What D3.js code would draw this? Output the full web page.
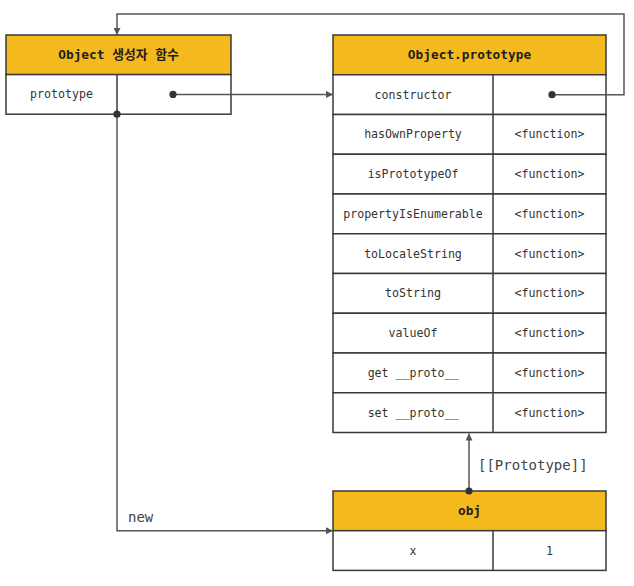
<!DOCTYPE html>
<html>
<head>
<meta charset="utf-8">
<script src="https://cdn.jsdelivr.net/npm/d3@7"></script>
<style>
  html, body { margin: 0; padding: 0; background: #fff; }
  svg text { font-family: "DejaVu Sans Mono", "Noto Sans CJK KR", monospace; }
</style>
</head>
<body>
<div id="chart"></div>
<script>
const ctorTitle = 'Object 생성자 함수'
const ctorRows = [['prototype', '']]

const protoTitle = 'Object.prototype'
const protoKeys = ['constructor', 'hasOwnProperty', 'isPrototypeOf', 'propertyIsEnumerable',
  'toLocaleString', 'toString', 'valueOf', 'get __proto__', 'set __proto__']
const protoValues = ['', '<function>', '<function>', '<function>', '<function>',
  '<function>', '<function>', '<function>', '<function>']

const objTitle = 'obj'
const objRows = [['x', '1']]

const linkLabels = ['new', '[[Prototype]]']

const W = 634, H = 586
const YELLOW = '#F4B91D'
const LINE = '#555'

const svg = d3.select('#chart').append('svg')
  .attr('width', W).attr('height', H)

svg.append('defs').append('marker')
  .attr('id', 'arrow')
  .attr('viewBox', '0 0 10 10')
  .attr('refX', 10).attr('refY', 5)
  .attr('markerWidth', 7).attr('markerHeight', 7)
  .attr('markerUnits', 'userSpaceOnUse')
  .attr('orient', 'auto')
  .append('path').attr('d', 'M0,0 L10,5 L0,10 Z').attr('fill', LINE)

// one table = header band + key/value rows
function drawTable(title, rows, x0, x1, xDiv, yTop, rowH) {
  const y = d3.scaleBand().domain(d3.range(rows.length + 1)).range([yTop, yTop + rowH * (rows.length + 1)])
  const g = svg.append('g')

  g.append('rect')
    .attr('x', x0).attr('y', y(0)).attr('width', x1 - x0).attr('height', y.bandwidth())
    .attr('fill', YELLOW).attr('stroke', '#3a3a3a').attr('stroke-width', 1.5)
  g.append('text')
    .attr('x', (x0 + x1) / 2).attr('y', y(0) + y.bandwidth() / 2)
    .attr('text-anchor', 'middle').attr('dominant-baseline', 'central')
    .attr('font-size', '12.8px').attr('font-weight', 'bold').attr('fill', '#1e1e1e')
    .text(title)

  rows.forEach((r, i) => {
    const yy = y(i + 1)
    g.append('rect')
      .attr('x', x0).attr('y', yy).attr('width', x1 - x0).attr('height', y.bandwidth())
      .attr('fill', '#fff').attr('stroke', '#3a3a3a').attr('stroke-width', 1.5)
    g.append('line')
      .attr('x1', xDiv).attr('x2', xDiv).attr('y1', yy).attr('y2', yy + y.bandwidth())
      .attr('stroke', '#3a3a3a').attr('stroke-width', 1.5)
    g.append('text')
      .attr('x', (x0 + xDiv) / 2).attr('y', yy + y.bandwidth() / 2)
      .attr('text-anchor', 'middle').attr('dominant-baseline', 'central')
      .attr('font-size', '11.6px').attr('fill', '#333')
      .text(r[0])
    g.append('text')
      .attr('x', (xDiv + x1) / 2).attr('y', yy + y.bandwidth() / 2)
      .attr('text-anchor', 'middle').attr('dominant-baseline', 'central')
      .attr('font-size', '11.6px').attr('fill', '#333')
      .text(r[1])
  })
  return y
}

const ctorY = drawTable(ctorTitle, ctorRows, 6, 231, 117, 35, 39.6)
const protoY = drawTable(protoTitle, d3.zip(protoKeys, protoValues), 333, 606, 493, 35, 39.75)
const objY = drawTable(objTitle, objRows, 333, 606, 493, 491, 39.7)

const links = svg.append('g').attr('fill', 'none').attr('stroke', LINE).attr('stroke-width', 1.5)
const dot = (x, y) => svg.append('circle').attr('cx', x).attr('cy', y).attr('r', 3.6).attr('fill', '#333')

const ctorRowMid = ctorY(1) + ctorY.bandwidth() / 2
const protoRowMid = protoY(1) + protoY.bandwidth() / 2
const ctorBottom = ctorY(1) + ctorY.bandwidth()
const protoBottom = protoY(protoKeys.length) + protoY.bandwidth()
const objHeaderMid = objY(0) + objY.bandwidth()

// prototype -> Object.prototype
links.append('path').attr('d', `M173,${ctorRowMid} H333`).attr('marker-end', 'url(#arrow)')
dot(173, ctorRowMid)

// constructor -> Object constructor function
links.append('path').attr('d', `M552,${protoRowMid} H624 V14 H117 V35`).attr('marker-end', 'url(#arrow)')
dot(552, protoRowMid)

// new -> obj
links.append('path').attr('d', `M117,${ctorBottom} V${objHeaderMid} H333`).attr('marker-end', 'url(#arrow)')
dot(117, ctorBottom)

// obj [[Prototype]] -> Object.prototype
links.append('path').attr('d', `M469,${objY(0)} V${protoBottom + 1}`).attr('marker-end', 'url(#arrow)')
dot(469, objY(0))

svg.append('text').attr('x', 128).attr('y', objHeaderMid - 9)
  .attr('font-size', '14px').attr('fill', '#444').text(linkLabels[0])
svg.append('text').attr('x', 478).attr('y', 470)
  .attr('font-size', '14px').attr('fill', '#444').text(linkLabels[1])
</script>
</body>
</html>
